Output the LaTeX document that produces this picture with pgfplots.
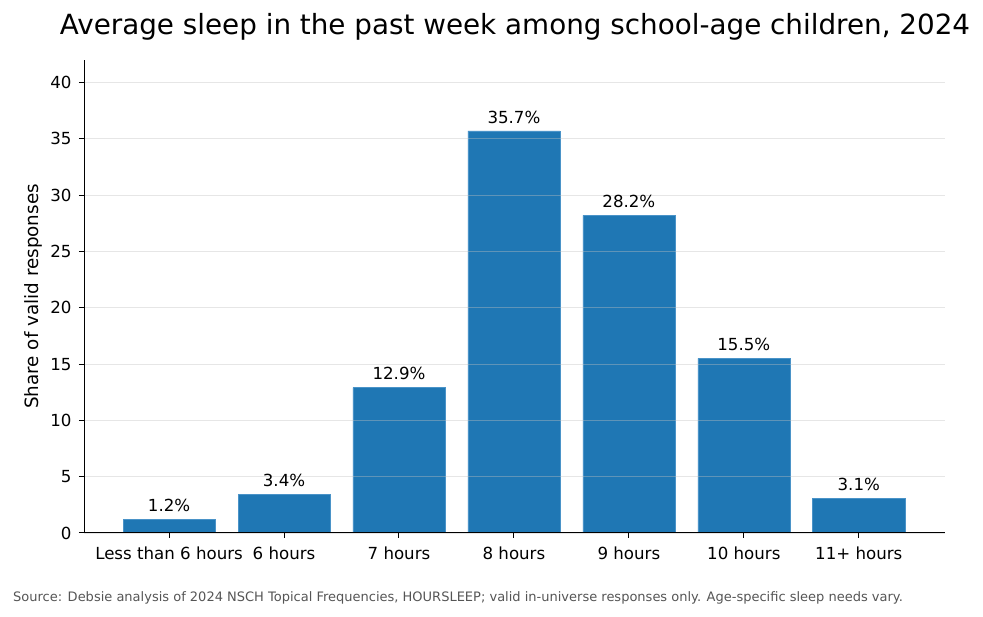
\documentclass[border=0pt]{standalone}
\usepackage{fontspec}
\setmainfont{DejaVu Sans}
\usepackage{pgfplots}
\pgfplotsset{compat=1.18}
\definecolor{barblue}{HTML}{1F77B4}
\definecolor{baredge}{HTML}{4A93C8}
\definecolor{gridc}{HTML}{C0C0C0}
\definecolor{srcgray}{HTML}{555555}
\begin{document}
\begin{tikzpicture}[x=1bp,y=1bp]
\useasboundingbox (0,0) rectangle (983,617);
\begin{axis}[
  at={(84bp,84bp)}, anchor=south west,
  scale only axis, width=861bp, height=473bp,
  xmin=-0.74, xmax=6.75, ymin=0, ymax=42,
  xtick=data,
  xticklabels={Less than 6 hours,6 hours,7 hours,8 hours,9 hours,10 hours,11+ hours},
  ytick={0,5,...,40},
  axis lines*=left,
  axis line style={line width=1bp},
  tick align=outside, major tick length=5bp,
  tick style={black, line width=1bp},
  ymajorgrids, grid style={gridc, opacity=0.4, line width=0.8bp},
  axis on top,
  ticklabel style={font=\fontsize{16.7}{18}\selectfont},
  /pgf/number format/assume math mode=true,
  ylabel={Share of valid responses},
  ylabel style={font=\fontsize{18.4}{20}\selectfont, at={(axis description cs:-0.0592,0.5)}, anchor=center},
  yticklabel style={xshift=-4bp},
  xticklabel style={yshift=-5bp},
  nodes near coords={\pgfmathprintnumber[fixed,precision=1,fixed zerofill]{\pgfplotspointmeta}\%},
  nodes near coords style={font=\fontsize{16.7}{18}\selectfont, black, anchor=south, yshift=4bp},
]
\addplot[ybar, bar width=92bp, fill=barblue, draw=baredge, line width=0.6bp] coordinates {
 (0,1.2) (1,3.4) (2,12.9) (3,35.7) (4,28.2) (5,15.5) (6,3.1)
};
\end{axis}
\node[font=\fontsize{27.9}{32}\selectfont, anchor=center] at (515,590) {Average sleep in the past week among school-age children, 2024};
\node[font=\fontsize{13.05}{15}\selectfont, text=srcgray, anchor=base west, inner sep=0] at (13,15) {Source: Debsie analysis of 2024 NSCH Topical Frequencies, HOURSLEEP; valid in-universe responses only. Age-specific sleep needs vary.};
\end{tikzpicture}
\end{document}
